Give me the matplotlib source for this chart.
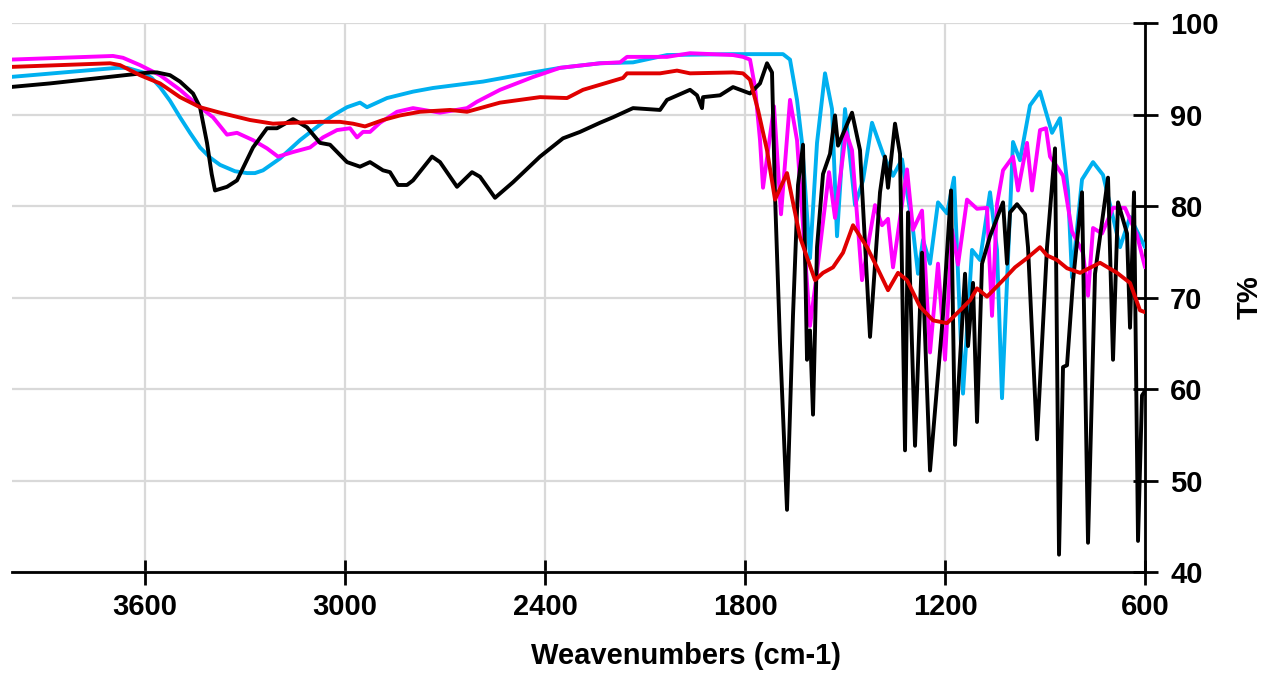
import matplotlib
matplotlib.use("Agg")
import matplotlib.pyplot as plt

plt.rcParams['font.family'] = ['Liberation Sans', 'DejaVu Sans']
plt.rcParams['font.weight'] = 'bold'

# FTIR spectra, wavenumber (cm-1) vs transmittance (%)
black_wn = [4005, 3885, 3735, 3585, 3564, 3525, 3495, 3456, 3435, 3414, 3400, 3390, 3372, 3354,
            3324, 3300, 3276, 3234, 3204, 3156, 3114, 3075, 3045, 2994, 2955, 2925, 2886, 2865,
            2841, 2814, 2796, 2739, 2715, 2664, 2619, 2595, 2550, 2496, 2415, 2346, 2295, 2235,
            2196, 2136, 2055, 2034, 1965, 1944, 1929, 1926, 1875, 1836, 1785, 1755, 1734, 1719,
            1710, 1695, 1674, 1656, 1641, 1626, 1614, 1605, 1596, 1584, 1566, 1545, 1530, 1521,
            1479, 1455, 1425, 1395, 1380, 1371, 1350, 1335, 1320, 1311, 1290, 1269, 1245, 1206,
            1182, 1170, 1140, 1131, 1116, 1104, 1089, 1065, 1026, 1014, 1005, 984, 960, 951, 924,
            894, 870, 858, 846, 834, 816, 789, 771, 750, 711, 696, 681, 654, 645, 633, 621, 609,
            600]
black_t = [93.0, 93.4, 94.0, 94.6, 94.6, 94.3, 93.6, 92.3, 90.8, 86.9, 83.5, 81.7, 81.9, 82.1,
           82.8, 84.6, 86.4, 88.5, 88.5, 89.5, 88.6, 86.9, 86.7, 84.8, 84.3, 84.8, 83.9, 83.7,
           82.3, 82.3, 82.8, 85.4, 84.8, 82.1, 83.7, 83.2, 80.9, 82.6, 85.4, 87.4, 88.1, 89.1,
           89.7, 90.7, 90.5, 91.6, 92.7, 92.1, 90.7, 91.9, 92.1, 93.0, 92.3, 93.4, 95.6, 94.6,
           81.2, 65.0, 46.8, 68.1, 82.3, 86.7, 63.2, 66.4, 57.2, 75.5, 83.5, 85.7, 89.9, 86.6,
           90.2, 86.1, 65.7, 81.5, 85.4, 82.0, 89.0, 85.7, 53.3, 79.3, 53.8, 74.9, 51.1, 68.1,
           81.7, 53.9, 72.6, 64.7, 71.6, 56.4, 73.7, 76.7, 80.4, 73.7, 79.3, 80.2, 79.1, 75.5, 54.5,
           75.5, 86.3, 41.9, 62.4, 62.6, 71.8, 81.5, 43.2, 72.6, 83.1, 63.2, 80.4, 77.0, 66.7, 81.5,
           43.4, 59.3, 59.8]

cyan_wn = [4005, 3684, 3654, 3606, 3580, 3555, 3525, 3495, 3465, 3435, 3405, 3375, 3330, 3294,
           3270, 3246, 3195, 3135, 3075, 3036, 2994, 2955, 2934, 2874, 2796, 2736, 2586, 2436,
           2355, 2235, 2136, 2034, 1836, 1686, 1665, 1644, 1629, 1605, 1584, 1560, 1539, 1524,
           1500, 1470, 1446, 1419, 1386, 1356, 1329, 1296, 1281, 1266, 1245, 1221, 1194, 1173,
           1146, 1119, 1095, 1065, 1044, 1029, 996, 975, 945, 915, 879, 855, 831, 819, 789, 756,
           726, 675, 645, 600]
cyan_t = [94.1, 95.1, 95.1, 94.6, 94.0, 93.0, 91.5, 89.7, 88.0, 86.4, 85.3, 84.5, 83.8, 83.6,
          83.6, 83.9, 85.2, 87.2, 88.9, 89.9, 90.8, 91.3, 90.8, 91.8, 92.5, 92.9, 93.6, 94.6,
          95.1, 95.6, 95.7, 96.5, 96.6, 96.6, 96.0, 91.6, 86.9, 74.3, 86.9, 94.5, 90.6, 76.7,
          90.6, 80.1, 82.8, 89.1, 85.7, 83.3, 85.1, 77.4, 72.6, 76.3, 73.7, 80.4, 79.2, 83.1,
          59.5, 75.2, 74.1, 81.5, 75.2, 59.0, 87.0, 85.0, 91.0, 92.5, 88.0, 89.6, 81.7, 72.2,
          82.9, 84.8, 83.4, 75.5, 78.8, 75.5]

magenta_wn = [4005, 3696, 3666, 3615, 3555, 3495, 3435, 3396, 3354, 3324, 3276, 3234, 3201, 3156,
              3105, 3066, 3024, 2985, 2964, 2946, 2925, 2895, 2844, 2796, 2715, 2634, 2604, 2535,
              2436, 2355, 2235, 2175, 2154, 2034, 1965, 1836, 1806, 1785, 1770, 1755, 1746, 1713,
              1692, 1665, 1644, 1605, 1587, 1548, 1530, 1497, 1479, 1449, 1410, 1389, 1371, 1356,
              1314, 1296, 1269, 1245, 1221, 1200, 1179, 1161, 1134, 1104, 1074, 1059, 1044, 1026,
              996, 981, 954, 939, 915, 897, 885, 864, 846, 819, 786, 771, 756, 729, 696, 660,
              624, 600]
magenta_t = [96.0, 96.4, 96.2, 95.4, 94.3, 92.7, 90.8, 89.7, 87.8, 88.0, 87.2, 86.3, 85.4, 85.9,
             86.4, 87.5, 88.3, 88.5, 87.5, 88.1, 88.1, 89.1, 90.3, 90.7, 90.2, 90.7, 91.4, 92.7,
             94.1, 95.1, 95.6, 95.7, 96.3, 96.3, 96.7, 96.5, 96.3, 96.0, 93.0, 87.2, 82.0, 90.9,
             79.1, 91.6, 87.2, 66.9, 71.9, 83.7, 78.7, 88.1, 86.1, 71.9, 80.1, 77.9, 78.6, 73.3,
             84.0, 77.4, 79.5, 64.0, 73.7, 63.2, 77.4, 73.6, 80.7, 79.7, 79.8, 68.0, 80.2, 83.9,
             85.4, 81.7, 86.9, 81.7, 88.3, 88.5, 85.4, 84.3, 83.3, 77.2, 74.9, 70.2, 77.6, 77.0,
             79.8, 79.8, 76.8, 73.3]

red_wn = [4005, 3705, 3675, 3615, 3555, 3495, 3435, 3375, 3285, 3216, 3156, 3075, 3015, 2976,
          2940, 2886, 2835, 2775, 2685, 2634, 2535, 2415, 2334, 2286, 2166, 2154, 2055, 2004,
          1965, 1836, 1806, 1785, 1761, 1734, 1710, 1674, 1635, 1590, 1566, 1536, 1506, 1476,
          1434, 1404, 1371, 1341, 1314, 1275, 1236, 1194, 1155, 1125, 1104, 1074, 1026, 990,
          954, 915, 894, 864, 834, 795, 735, 684, 645, 615, 600]
red_t = [95.2, 95.6, 95.4, 94.3, 93.4, 91.9, 90.8, 90.2, 89.4, 89.0, 89.1, 89.2, 89.2, 89.0,
         88.7, 89.4, 89.9, 90.3, 90.5, 90.3, 91.3, 91.9, 91.8, 92.7, 94.0, 94.5, 94.5, 94.8,
         94.5, 94.6, 94.5, 93.8, 90.5, 86.1, 80.7, 83.6, 76.6, 71.9, 72.7, 73.3, 74.9, 77.9,
         75.5, 73.3, 70.8, 72.7, 71.9, 69.0, 67.5, 67.2, 68.6, 69.7, 71.0, 70.1, 71.9, 73.3,
         74.3, 75.5, 74.6, 74.1, 73.2, 72.7, 73.8, 72.7, 71.6, 68.6, 68.4]

fig = plt.figure(figsize=(12.69, 6.73), dpi=100)
ax = fig.add_axes([0.0092, 0.150, 0.9023 - 0.0092, 0.9658 - 0.150])

lw = 2.8
style = dict(lw=lw, solid_joinstyle='round', solid_capstyle='round')
ax.plot(cyan_wn, cyan_t, color='#00b0f0', zorder=3, **style)
ax.plot(magenta_wn, magenta_t, color='#ff00ff', zorder=4, **style)
ax.plot(black_wn, black_t, color='black', zorder=5, **style)
ax.plot(red_wn, red_t, color='#e00000', zorder=6, **style)

ax.set_xlim(4000, 600)
ax.set_ylim(40, 100)
ax.set_xticks([3600, 3000, 2400, 1800, 1200, 600])
ax.set_yticks(range(40, 101, 10))
ax.grid(True, color='#d9d9d9', lw=1.6, zorder=0)
ax.set_axisbelow(True)

ax.yaxis.tick_right()
ax.yaxis.set_label_position('right')
for s in ['top', 'left']:
    ax.spines[s].set_visible(False)
for s in ['bottom', 'right']:
    ax.spines[s].set_linewidth(2)
ax.tick_params(axis='both', direction='inout', length=18, width=2, labelsize=21)
ax.tick_params(axis='y', pad=9)
ax.tick_params(axis='x', pad=6)

ax.set_ylabel('T%', fontsize=21, fontweight='bold', labelpad=12)
fig.text(686 / 1269, 0.025, 'Weavenumbers (cm-1)', ha='center', va='center',
         fontsize=21, fontweight='bold')

fig.savefig('out.png', dpi=100)
